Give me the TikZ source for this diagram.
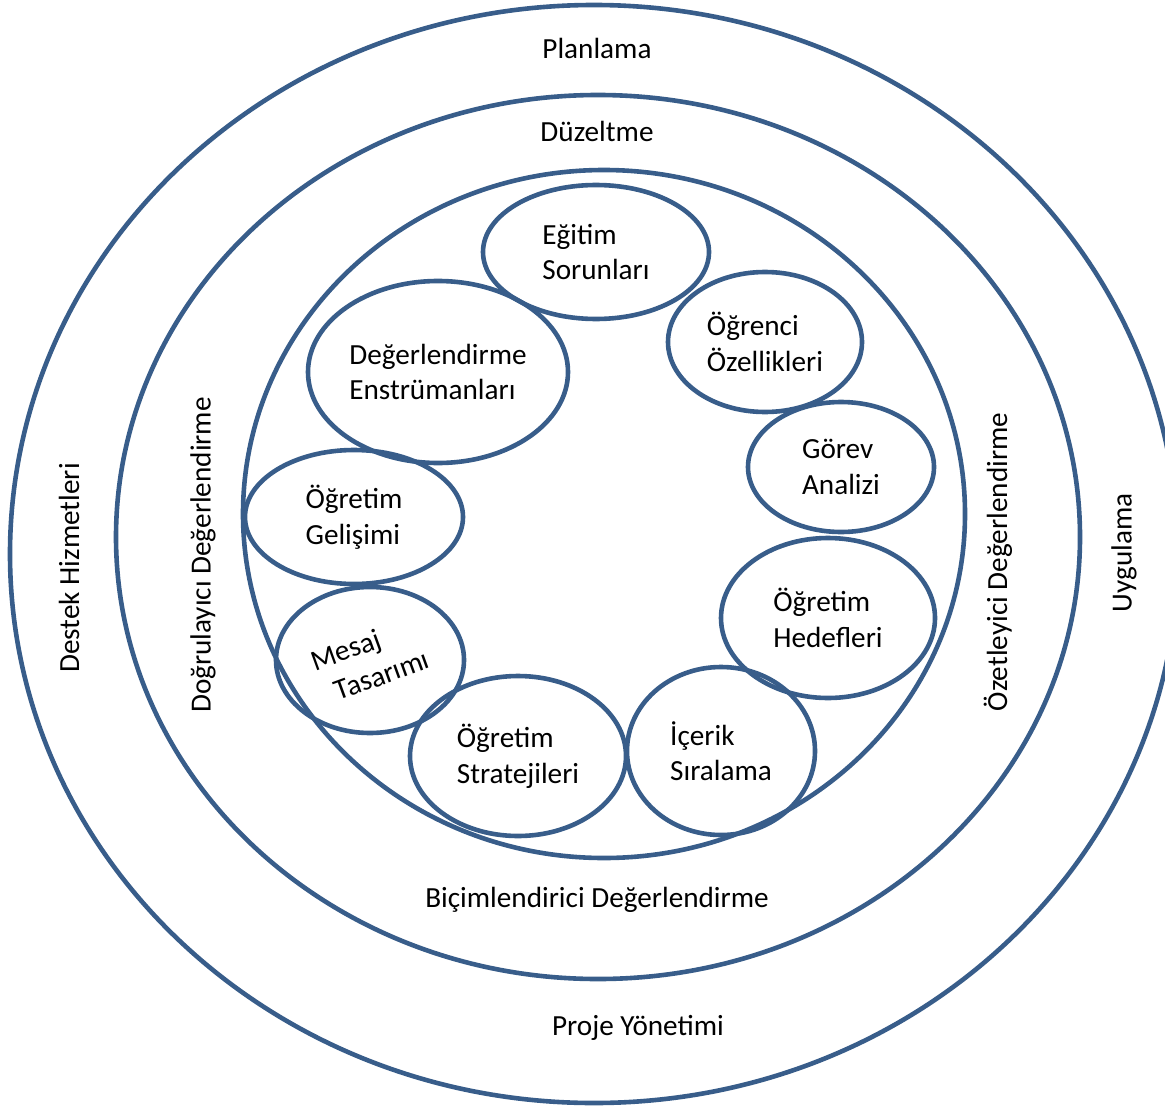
\documentclass[tikz,border=0pt]{standalone}
\usepackage{fontspec}
\setmainfont{Carlito}
\usepackage{tikz}
\usetikzlibrary{shapes.geometric}
\definecolor{ringblue}{HTML}{385D8A}
\tikzset{
  ring/.style={ellipse, draw=ringblue, line width=2.3pt, inner sep=0pt},
  step box/.style={ring, align=left, font=\fontsize{14.6}{17.8}\selectfont},
  lbl/.style={font=\fontsize{14.6}{17.8}\selectfont, inner sep=0pt}
}

\begin{document}
\begin{tikzpicture}[x=0.5pt, y=-0.5pt]
    \useasboundingbox (0,0) rectangle (1165,1107);

    % outer rings
    \node (outer) [ring, minimum width=584pt, minimum height=549pt] at (594,554) {};
    \node (middle) [ring, minimum width=482pt, minimum height=442pt] at (598,537) {};
    \node (inner) [ring, minimum width=361pt, minimum height=344pt] at (604,514) {};

    \node (plan) [lbl] at (597,48) {Planlama};
    \node (duz) [lbl] at (597,131) {Düzeltme};
    \node (bic) [lbl] at (597,900) {Biçimlendirici Değerlendirme};
    \node (proje) [lbl] at (638,1028) {Proje Yönetimi};
    \node (destek) [lbl, rotate=90] at (69,568) {Destek Hizmetleri};
    \node (dogru) [lbl, rotate=90] at (203,555) {Doğrulayıcı Değerlendirme};
    \node (ozet) [lbl, rotate=90] at (998,562) {Özetleyici Değerlendirme};
    \node (uyg) [lbl, rotate=90] at (1124,553) {Uygulama};

    % process steps
    \node (egitim) [step box, minimum width=113pt, minimum height=67pt] at (596,252) {Eğitim\\Sorunları};
    \node (ogrenci) [step box, minimum width=97pt, minimum height=70pt] at (765,342) {Öğrenci\\Özellikleri};
    \node (gorev) [step box, minimum width=93pt, minimum height=65pt] at (841,467) {Görev\\Analizi};
    \node (hedef) [step box, minimum width=107pt, minimum height=80pt] at (828,618) {Öğretim\\Hedefleri};
    \node (icerik) [step box, minimum width=94pt, minimum height=84pt] at (721,751) {İçerik\\Sıralama};
    \node (strateji) [step box, minimum width=108pt, minimum height=80pt] at (518,756) {Öğretim\\Stratejileri};
    \node (mesaj) [step box, minimum width=94pt, minimum height=73pt] at (370,660) {};
    \node (mesajtxt) [lbl, align=left, rotate=20] at (mesaj.center) {Mesaj\\\hspace{6pt}Tasarımı};
    \node (gelisim) [step box, minimum width=109pt, minimum height=67pt] at (354,517) {Öğretim\\Gelişimi};
    \node (olcme) [step box, minimum width=130pt, minimum height=91pt] at (438,372) {Değerlendirme\\Enstrümanları};
\end{tikzpicture}
\end{document}
